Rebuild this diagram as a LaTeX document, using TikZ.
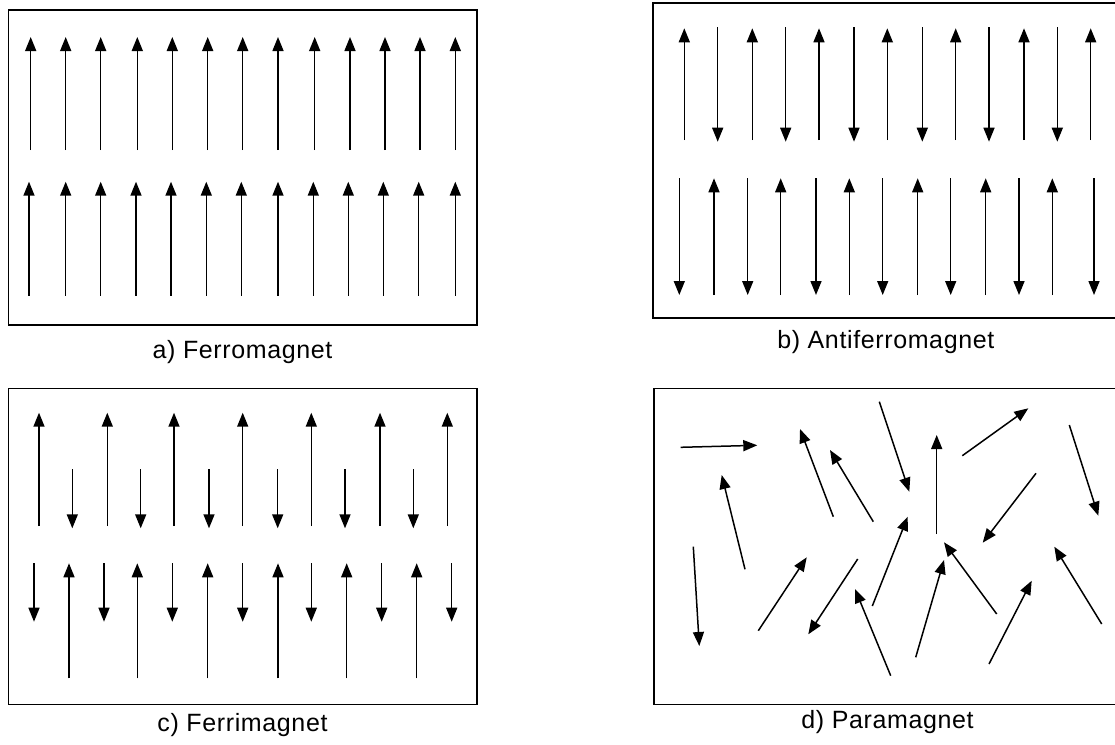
\documentclass[tikz,border=0pt]{standalone}
\usepackage{fontspec}
\setmainfont{Liberation Sans}[LetterSpace=2.5]
\usetikzlibrary{arrows.meta}
\begin{document}
\begin{tikzpicture}[x=1pt,y=-1pt,
  spin/.style={line width=1.5pt,-{Triangle[length=14pt,width=11pt]}},
  frame/.style={line width=1.5pt},
  lbl/.style={font=\fontsize{25}{28}\selectfont, inner sep=0pt, anchor=base}]
\useasboundingbox (0,0) rectangle (1115,744);
\clip (0,0) rectangle (1115,744);
% ---------- a) Ferromagnet
\draw[frame] (8.5,10) rectangle (477,325);
\foreach \x in {30.7,65.7,100.7,137.3,172.3,207.7,242.7,278,314.7,350,385,420,455.3}
  \draw[spin] (\x,150) -- (\x,37);
\foreach \x in {29,65.7,100.7,136,171,206.3,241.3,278,313.3,348.3,383.3,418.7,455.3}
  \draw[spin] (\x,295.7) -- (\x,181.7);
\node[lbl] (la) at (242.5,358.5) {a) Ferromagnet};
% ---------- b) Antiferromagnet
\draw[frame] (653,3) rectangle (1130,318);
\foreach \x in {684.3,752.3,819,887.3,955.7,1024,1090.7}
  \draw[spin] (\x,140) -- (\x,28.3);
\foreach \x in {717.7,785.7,854,922.3,989,1057.3}
  \draw[spin] (\x,27.3) -- (\x,141.7);
\foreach \x in {679.3,747.7,816,882.7,950.7,1019,1094}
  \draw[spin] (\x,178.3) -- (\x,295);
\foreach \x in {714,780.7,849.3,917.7,985.7,1052.3}
  \draw[spin] (\x,295) -- (\x,178.3);
\node[lbl] (lb) at (885.8,348.5) {b) Antiferromagnet};
% ---------- c) Ferrimagnet
\draw[frame] (8.5,388.3) rectangle (477,704.3);
\foreach \x in {39,107.3,174,242.7,311.3,380,447.3}
  \draw[spin] (\x,526) -- (\x,412.7);
\foreach \x in {72.3,140.7,209,277.7,345,413.3}
  \draw[spin] (\x,469.3) -- (\x,528.3);
\foreach \x in {34,104,172.3,242.7,311.3,381.7,451.7}
  \draw[spin] (\x,563.3) -- (\x,621.7);
\foreach \x in {69,137.3,207.7,278,346.7,416.7}
  \draw[spin] (\x,678.3) -- (\x,563.3);
\node[lbl] (lc) at (242.5,731.7) {c) Ferrimagnet};
% ---------- d) Paramagnet
\draw[frame] (654,388.3) rectangle (1130,704.3);
\draw[spin] (680.7,447.3) -- (757.3,445.3);
\draw[spin] (745,569.3) -- (721.7,475);
\draw[spin] (693.3,546.7) -- (699.3,646);
\draw[spin] (833.3,516.7) -- (800,429);
\draw[spin] (873.3,521.7) -- (830,450);
\draw[spin] (879.3,401.7) -- (909.3,491.7);
\draw[spin] (936.7,534) -- (936.7,435);
\draw[spin] (962.3,455.7) -- (1028.3,408.3);
\draw[spin] (1069.3,425) -- (1098.3,515.7);
\draw[spin] (1036,473.3) -- (982.7,542.7);
\draw[spin] (758.3,630.7) -- (806.7,557.3);
\draw[spin] (857.7,559) -- (808.3,634.3);
\draw[spin] (872.3,606) -- (907.7,516.7);
\draw[spin] (890.7,675.7) -- (855,589);
\draw[spin] (915.7,657.3) -- (944,560);
\draw[spin] (996.7,614) -- (944,542.3);
\draw[spin] (989,664) -- (1031.7,580.7);
\draw[spin] (1101.7,624) -- (1054.3,546.7);
\node[lbl] (ld) at (887.5,728.5) {d) Paramagnet};
\end{tikzpicture}
\end{document}
